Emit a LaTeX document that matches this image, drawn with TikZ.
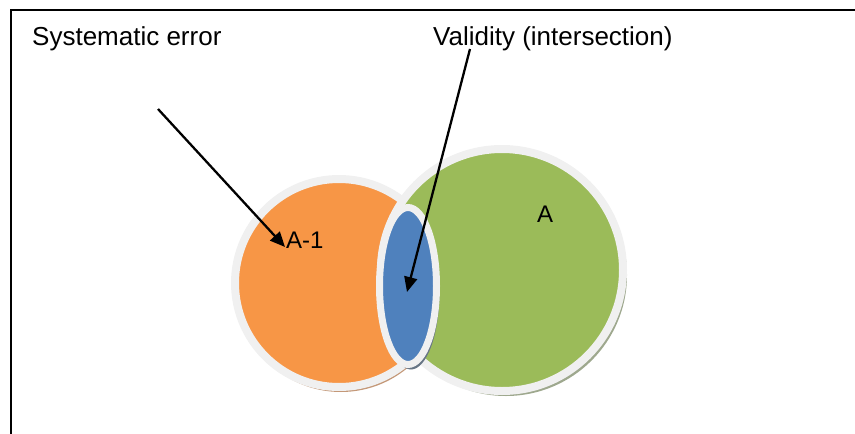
\documentclass[tikz,border=0pt]{standalone}
\usepackage{fontspec}
\setmainfont{Liberation Sans}
\usepackage{xcolor}
\usetikzlibrary{arrows.meta,shapes.geometric,shadows}

\definecolor{setorange}{HTML}{F79646}
\definecolor{setgreen}{HTML}{9BBB59}
\definecolor{setblue}{HTML}{4F81BD}
\definecolor{setring}{HTML}{F0F0F0}
\definecolor{orangeshade}{HTML}{C49878}
\definecolor{greenshade}{HTML}{9EA88E}
\definecolor{blueshade}{HTML}{677585}

\begin{document}
\begin{tikzpicture}[
    x=1pt, y=-1pt,
    set/.style={
        % the shape:
        circle,
        inner sep=0pt,
        % the fill and ring
        line width=8pt,
        draw=setring},
    label text/.style={
        inner sep=0pt,
        font=\fontsize{26}{30}\selectfont},
    pointer/.style={
        line width=2.3pt,
        -{Triangle[length=15pt,width=13pt]}}
  ]
  \useasboundingbox (0,0) rectangle (855,434);
  % frame
  \draw [line width=2.5pt] (11,434) -- (11,10) -- (855,10);

  % the two sets and their overlap
  \node (error set) [set, minimum size=208pt, fill=setorange,
    drop shadow={shadow xshift=2pt,shadow yshift=-5pt,fill=orangeshade,opacity=1}]
    at (339,283) {};
  \node (true set) [set, minimum size=242pt, fill=setgreen,
    drop shadow={shadow xshift=4pt,shadow yshift=-5pt,fill=greenshade,opacity=1}]
    at (502,270) {};
  \node (overlap) [set, ellipse, line width=7pt, minimum width=57pt, minimum height=157pt,
    fill=setblue,
    drop shadow={shadow xshift=3pt,shadow yshift=-5pt,fill=blueshade,opacity=1}]
    at (408,286) {};

  % labels
  \node (error label) [label text, anchor=base west] at (32,45) {Systematic error};
  \node (validity label) [label text, anchor=base west] at (433,45) {Validity (intersection)};
  \node (error name) [label text, anchor=base west, font=\fontsize{24}{28}\selectfont]
    at (286,248) {A-1};
  \node (true name) [label text, anchor=base, font=\fontsize{24}{28}\selectfont]
    at (545,222) {A};

  % pointers
  \coordinate (error start) at (158,109);
  \coordinate (error tip) at (285,247);
  \coordinate (validity start) at (470,49);
  \coordinate (validity tip) at (407,292);
  \draw [pointer] (error start) -- (error tip);
  \draw [pointer] (validity start) -- (validity tip);
\end{tikzpicture}
\end{document}
